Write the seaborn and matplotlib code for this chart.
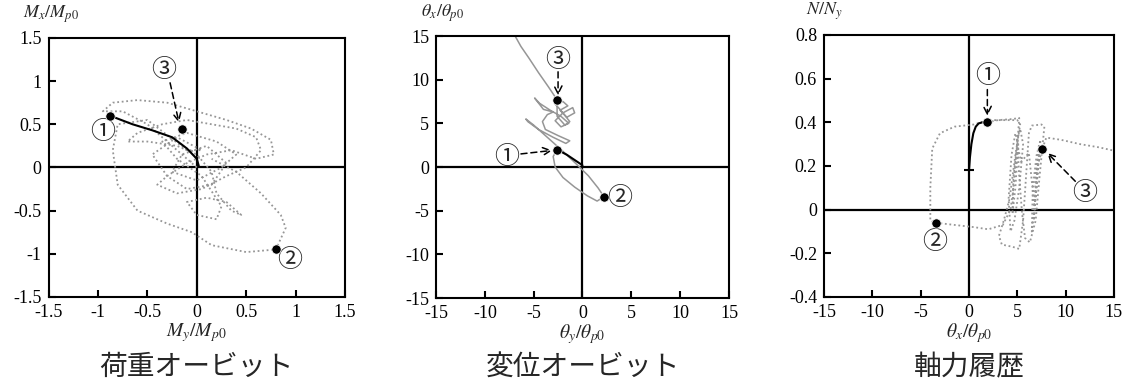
import matplotlib
matplotlib.use("Agg")
import matplotlib.pyplot as plt
import seaborn as sns

# ---- load orbit: My/Mp0 (x) vs Mx/Mp0 (y) ----
load_gray_x = [0.0, -0.25, -0.5, -0.75, -0.95, -0.85, -0.6, -0.3, 0.0, 0.3, 0.55, 0.75, 0.78, 0.6,
               0.35, 0.1, -0.1, -0.3, -0.4, -0.2, 0.05, 0.3, 0.5, 0.65, 0.6, 0.4, 0.15, -0.1, -0.35,
               -0.6, -0.7, -0.5, -0.2, 0.0, 0.15, 0.2, 0.35, 0.45, 0.3, 0.1, -0.1, 0.0, 0.2, 0.25,
               0.05, -0.2, -0.35, -0.1, 0.2, 0.4, 0.25, 0.0, -0.25, -0.15, 0.1, 0.3, 0.15, -0.1,
               -0.3, -0.45, -0.2, 0.05, -0.1, -0.5, -0.8, -0.85, -0.8, -0.6, -0.3, -0.05, 0.15,
               0.5, 0.8, 0.9, 0.85, 0.65, 0.4, 0.15]
load_gray_y = [0.0, 0.25, 0.5, 0.65, 0.65, 0.75, 0.78, 0.75, 0.65, 0.55, 0.45, 0.32, 0.15, 0.1,
               0.2, 0.15, 0.05, -0.1, -0.2, -0.3, -0.25, -0.1, 0.0, 0.2, 0.35, 0.45, 0.5, 0.55, 0.5,
               0.4, 0.3, 0.3, 0.25, 0.15, -0.05, -0.3, -0.5, -0.55, -0.4, -0.35, -0.4, -0.55, -0.6,
               -0.45, -0.1, 0.1, 0.3, 0.4, 0.3, 0.15, 0.0, -0.15, -0.05, 0.15, 0.25, 0.05, -0.2,
               -0.25, -0.1, 0.15, 0.35, 0.2, 0.2, 0.55, 0.5, 0.2, -0.2, -0.5, -0.65, -0.75, -0.9,
               -0.98, -0.95, -0.7, -0.55, -0.3, -0.05, 0.1]
load_black_x = [0.02, 0.0, -0.1, -0.25, -0.45, -0.65, -0.88]
load_black_y = [0.02, 0.1, 0.22, 0.35, 0.43, 0.5, 0.6]
load_pts_x = [-0.88, 0.8, -0.15]
load_pts_y = [0.6, -0.95, 0.45]

# ---- displacement orbit: thy/thp0 (x) vs thx/thp0 (y) ----
disp_gray_x = [-2.6, -3.0, -2.8, -2.0, -0.8, 0.5, 1.5, 2.2, 1.6, 0.6, -0.5, -2.0, -3.5, -5.0,
               -5.8, -5.6, -4.5, -3.0, -1.7, -1.3, -2.5, -3.8, -4.1, -3.6, -3.0, -4.0, -4.9, -4.4,
               -3.3, -2.2, -1.4, -2.2, -2.8, -2.0, -1.0, -0.8, -1.6, -2.3, -1.5, -2.0, -2.8, -2.3,
               -1.3, -1.8, -2.6, -2.6, -3.5, -4.5, -5.5, -6.3, -6.9]
disp_gray_y = [2.0, 1.2, 0.0, -1.2, -2.3, -3.3, -3.9, -3.4, -2.4, -1.0, 0.2, 1.8, 3.3, 4.8,
               5.5, 5.2, 4.3, 3.4, 2.7, 3.0, 3.6, 4.3, 5.2, 6.0, 6.3, 6.6, 7.9, 7.3,
               6.5, 5.8, 5.0, 4.6, 5.3, 6.2, 6.8, 6.2, 5.7, 6.5, 7.0, 7.5, 7.2, 6.6,
               5.2, 4.8, 5.8, 7.7, 9.2, 10.8, 12.5, 13.8, 15.0]
disp_black_x = [0.0, -0.8, -1.6, -2.6]
disp_black_y = [0.2, 0.8, 1.4, 2.0]
disp_pts_x = [-2.6, 2.2, -2.6]
disp_pts_y = [2.0, -3.4, 7.7]

# ---- axial force history: thx/thp0 (x) vs N/Ny (y) ----
axial_gray_x = [1.9, 3.0, 4.5, 5.2, 5.0, 4.6, 4.3, 3.5, 2.0, 0.5, -1.5, -3.4, -4.0, -4.0, -3.8,
                -3.0, -1.5, 0.5, 2.0, 3.5, 5.0, 5.3, 4.8, 4.2, 3.6, 3.1, 3.4, 4.5, 5.2, 5.6, 5.9,
                6.2, 6.5, 7.5, 7.8, 7.3, 6.9, 6.3, 5.8, 5.5, 5.2, 5.0, 5.3, 5.6, 5.2, 4.7, 4.3,
                4.1, 4.4, 4.8, 5.1, 4.8, 4.5, 4.6, 5.0, 5.4, 6.2, 6.8, 6.5, 6.6, 7.0, 7.4, 7.0,
                6.7, 6.9, 7.3, 7.0, 6.8, 7.1, 7.6, 8.0, 9.5, 11.5, 13.5, 15.0]
axial_gray_y = [0.40, 0.41, 0.415, 0.42, 0.30, 0.10, 0.0, -0.07, -0.09, -0.08, -0.07, -0.06, -0.05,
                0.10, 0.28, 0.35, 0.38, 0.39, 0.41, 0.41, 0.41, 0.39, 0.25, 0.05, -0.05, -0.12,
                -0.16, -0.17, -0.18, -0.05, 0.15, 0.35, 0.385, 0.39, 0.38, 0.15, -0.05, -0.15,
                -0.13, -0.02, 0.15, 0.32, 0.37, 0.3, 0.1, -0.05, -0.1, 0.05, 0.25, 0.35, 0.3, 0.1,
                -0.02, 0.15, 0.3, 0.22, 0.26, 0.0, -0.1, 0.1, 0.25, 0.32, 0.12, -0.05, 0.15, 0.3,
                0.1, 0.02, 0.2, 0.28, 0.33, 0.32, 0.30, 0.285, 0.27]
axial_black_x = [0.0, 0.1, 0.25, 0.45, 0.7, 1.0, 1.4, 1.9]
axial_black_y = [0.18, 0.24, 0.30, 0.35, 0.38, 0.395, 0.40, 0.40]
axial_pts_x = [1.9, -3.4, 7.6]
axial_pts_y = [0.40, -0.06, 0.28]

circ = ["①", "②", "③"]
GRAY = "#969696"

sns.set_style("ticks")
plt.rcParams["font.family"] = ["Liberation Serif", "Noto Sans CJK JP"]
plt.rcParams["mathtext.fontset"] = "stix"

fig = plt.figure(figsize=(11.26, 3.81), dpi=100)
ax1 = fig.add_axes([0.0431, 0.2205, 0.2633, 0.680])
ax2 = fig.add_axes([0.3872, 0.2178, 0.2602, 0.6877])
ax3 = fig.add_axes([0.7318, 0.2205, 0.2575, 0.6877])


def style_axes(ax, lim_x, lim_y, ticks_x, ticks_y, xlab, ylab, ylab_dx=0):
    ax.axhline(0, color="black", lw=1.6, zorder=1)
    ax.axvline(0, color="black", lw=1.6, zorder=1)
    ax.set_xlim(lim_x)
    ax.set_ylim(lim_y)
    ax.set_xticks(ticks_x)
    ax.set_yticks(ticks_y)
    ax.set_xticklabels([f"{t:g}" for t in ticks_x])
    ax.set_yticklabels([f"{t:g}" for t in ticks_y])
    ax.tick_params(direction="in", length=5, width=1.5, labelsize=13, pad=5, colors="black")
    for s in ax.spines.values():
        s.set_linewidth(1.5)
        s.set_color("black")
    ax.set_xlabel(xlab, fontsize=14, labelpad=0)
    ax.set_ylabel("")
    ax.annotate(ylab, xy=(0, 1), xycoords="axes fraction", xytext=(ylab_dx, 9),
                textcoords="offset points", ha="center", va="bottom", fontsize=13)


def arrow(ax, start, end):
    ax.annotate("", xy=end, xytext=start,
                arrowprops=dict(arrowstyle="->", linestyle=(0, (4, 2.5)), lw=1.1,
                                color="black", mutation_scale=14, shrinkA=0, shrinkB=0))


def label(ax, x, y, s):
    ax.text(x, y, s, fontsize=18, family=["Noto Sans CJK JP"], ha="center", va="center")


# panel 1
sns.lineplot(x=load_gray_x, y=load_gray_y, sort=False, estimator=None, ax=ax1,
             color=GRAY, lw=1.3, linestyle=(0, (1, 1.5)))
sns.lineplot(x=load_black_x, y=load_black_y, sort=False, estimator=None, ax=ax1,
             color="black", lw=1.5)
sns.scatterplot(x=load_pts_x, y=load_pts_y, ax=ax1, color="black", s=45, zorder=5)
style_axes(ax1, (-1.5, 1.5), (-1.5, 1.5), [-1.5, -1, -0.5, 0, 0.5, 1, 1.5],
           [-1.5, -1, -0.5, 0, 0.5, 1, 1.5], r"$M_y/M_{p0}$", r"$M_x/M_{p0}$", ylab_dx=2)
label(ax1, -0.95, 0.41, circ[0])
label(ax1, 0.94, -1.07, circ[1])
label(ax1, -0.34, 1.13, circ[2])
arrow(ax1, (-0.27, 0.98), (-0.18, 0.52))

# panel 2
sns.lineplot(x=disp_gray_x, y=disp_gray_y, sort=False, estimator=None, ax=ax2,
             color=GRAY, lw=1.1)
sns.lineplot(x=disp_black_x, y=disp_black_y, sort=False, estimator=None, ax=ax2,
             color="black", lw=1.5)
sns.scatterplot(x=disp_pts_x, y=disp_pts_y, ax=ax2, color="black", s=45, zorder=5)
style_axes(ax2, (-15, 15), (-15, 15), [-15, -10, -5, 0, 5, 10, 15],
           [-15, -10, -5, 0, 5, 10, 15], r"$\theta_y/\theta_{p0}$", r"$\theta_x/\theta_{p0}$",
           ylab_dx=5)
label(ax2, -7.8, 1.15, circ[0])
label(ax2, 3.8, -3.55, circ[1])
label(ax2, -2.5, 12.3, circ[2])
arrow(ax2, (-6.3, 1.5), (-3.1, 1.9))
arrow(ax2, (-2.5, 10.9), (-2.5, 8.2))

# panel 3
sns.lineplot(x=axial_gray_x, y=axial_gray_y, sort=False, estimator=None, ax=ax3,
             color=GRAY, lw=1.3, linestyle=(0, (1, 1.5)))
sns.lineplot(x=axial_black_x, y=axial_black_y, sort=False, estimator=None, ax=ax3,
             color="black", lw=1.5)
ax3.plot([axial_black_x[0]], [axial_black_y[0]], marker="_", ms=7, mew=1.5, color="black")
sns.scatterplot(x=axial_pts_x, y=axial_pts_y, ax=ax3, color="black", s=45, zorder=5)
style_axes(ax3, (-15, 15), (-0.4, 0.8), [-15, -10, -5, 0, 5, 10, 15],
           [-0.4, -0.2, 0, 0.2, 0.4, 0.6, 0.8], r"$\theta_x/\theta_{p0}$", r"$N/N_y$")
label(ax3, 1.9, 0.61, circ[0])
label(ax3, -3.5, -0.15, circ[1])
label(ax3, 12.0, 0.075, circ[2])
arrow(ax3, (1.9, 0.55), (1.9, 0.43))
arrow(ax3, (11.0, 0.13), (8.1, 0.26))

# captions
for xc, txt in [(0.1747, "荷重オービット"), (0.5173, "変位オービット"), (0.8605, "軸力履歴")]:
    fig.text(xc, 0.037, txt, ha="center", va="center", fontsize=20,
             family=["Noto Sans CJK JP"])

fig.savefig("out.png", dpi=100)
